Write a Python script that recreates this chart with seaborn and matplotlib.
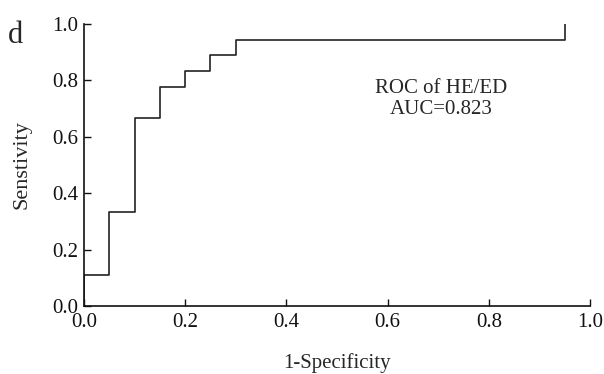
import matplotlib
matplotlib.use("Agg")
import matplotlib.pyplot as plt
import seaborn as sns
import pandas as pd

# Data
fpr = [0.0, 0.0, 0.05, 0.10, 0.15, 0.20, 0.25, 0.30, 0.95]
tpr = [0.0, 0.111, 0.333, 0.667, 0.778, 0.833, 0.889, 0.944, 1.0]
xticks = [0.0, 0.2, 0.4, 0.6, 0.8, 1.0]
yticks = [0.0, 0.2, 0.4, 0.6, 0.8, 1.0]

sns.set_theme(style="ticks")
plt.rcParams['font.family'] = ['Liberation Serif', 'DejaVu Serif']

df = pd.DataFrame({"fpr": fpr, "tpr": tpr})

fig = plt.figure(figsize=(6.04, 3.74), dpi=100)
ax = fig.add_axes([0.139, 0.182, 0.838, 0.754])
sns.lineplot(data=df, x="fpr", y="tpr", ax=ax, estimator=None, sort=False,
             drawstyle="steps-post", color="#222222", linewidth=1.2)

ax.set_xlim(0, 1)
ax.set_ylim(0, 1)
ax.set_xticks(xticks)
ax.set_yticks(yticks)
ax.set_xticklabels([f"{v:.1f}" for v in xticks])
ax.set_yticklabels([f"{v:.1f}" for v in yticks])
ax.tick_params(direction="in", length=5, width=1, labelsize=15, colors="#111111")
ax.tick_params(axis="y", pad=4)
ax.tick_params(axis="x", pad=5)
sns.despine(ax=ax)
for s in ["left", "bottom"]:
    ax.spines[s].set_linewidth(1.2)
    ax.spines[s].set_color("#111111")

ax.set_xlabel("1-Specificity", fontsize=15, labelpad=15)
ax.set_ylabel("Senstivity", fontsize=16, labelpad=15)

ax.text(0.705, 0.734, "ROC of HE/ED\nAUC=0.823", ha="center", va="center",
        fontsize=15, linespacing=1.15, transform=ax.transData)
fig.text(0.013, 0.885, "d", fontsize=22, ha="left", va="baseline")

fig.savefig("out.png", dpi=100)
